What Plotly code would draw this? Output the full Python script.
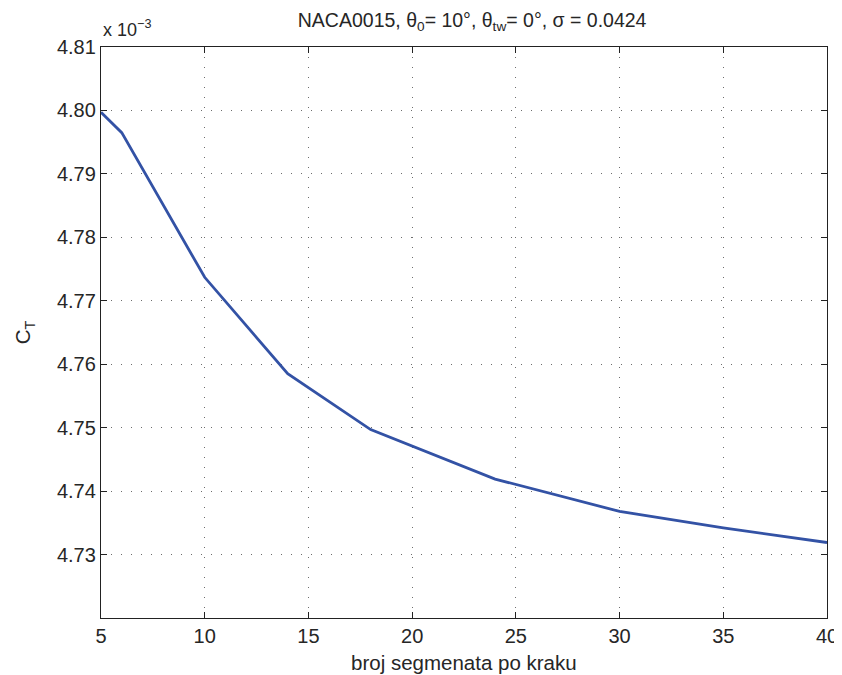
import plotly.graph_objects as go

# Data (C_T values in units of 1e-3)
segments = [5, 6, 10, 14, 18, 24, 30, 35, 40]
ct_e3 = [4.7997, 4.7965, 4.7737, 4.7585, 4.7497, 4.7419, 4.7368, 4.7342, 4.7319]

x_ticks = [5, 10, 15, 20, 25, 30, 35, 40]
y_ticks = [4.73, 4.74, 4.75, 4.76, 4.77, 4.78, 4.79, 4.80, 4.81]
y_ticktext = ["%.2f" % v for v in y_ticks]

FONT = "Liberation Sans, Arial, Helvetica, sans-serif"
TXT = "#262626"

fig = go.Figure()
fig.add_trace(go.Scatter(
    x=segments, y=ct_e3, mode="lines",
    line=dict(color="#3352a5", width=2.8),
    showlegend=False,
))

axis_common = dict(
    showline=True, linecolor="#222222", linewidth=1.3, mirror="ticks",
    ticks="inside", ticklen=6, tickcolor="#222222", tickwidth=1,
    showgrid=True, gridcolor="rgba(60,60,60,0.75)", gridwidth=1,
    griddash="1px,9px", zeroline=False, automargin=False,
    tickfont=dict(family=FONT, size=20, color=TXT),
)

# page body has an 8px margin, so the figure is sized/offset to compensate
fig.update_layout(
    width=834, height=667,
    margin=dict(l=93, r=15, t=39, b=57),
    paper_bgcolor="white", plot_bgcolor="white",
    font=dict(family=FONT, size=20, color=TXT),
    title=dict(
        text="NACA0015, θ<sub>0</sub>= 10°, θ<sub>tw</sub>= 0°, σ = 0.0424",
        x=0.5565, xanchor="center", y=0.9925, yanchor="top",
        font=dict(family=FONT, size=19.5, color=TXT),
    ),
    xaxis=dict(range=[5, 40], tickvals=x_ticks, **axis_common),
    yaxis=dict(
        range=[4.72, 4.81], tickvals=y_ticks, ticktext=y_ticktext,
        title=dict(text="C<sub>T</sub>", standoff=20,
                   font=dict(family=FONT, size=20.5, color=TXT)),
        **axis_common,
    ),
    annotations=[
        dict(text="x 10<sup>−3</sup>", xref="paper", yref="paper",
             x=0.0, y=1.0, xanchor="left", yanchor="bottom", yshift=5,
             showarrow=False, font=dict(family=FONT, size=18, color=TXT)),
        dict(text="broj segmenata po kraku", xref="paper", yref="paper",
             x=0.5, y=0.0, xanchor="center", yanchor="middle", yshift=-44,
             showarrow=False, font=dict(family=FONT, size=20.5, color=TXT)),
    ],
)

fig.write_html("out.html")
